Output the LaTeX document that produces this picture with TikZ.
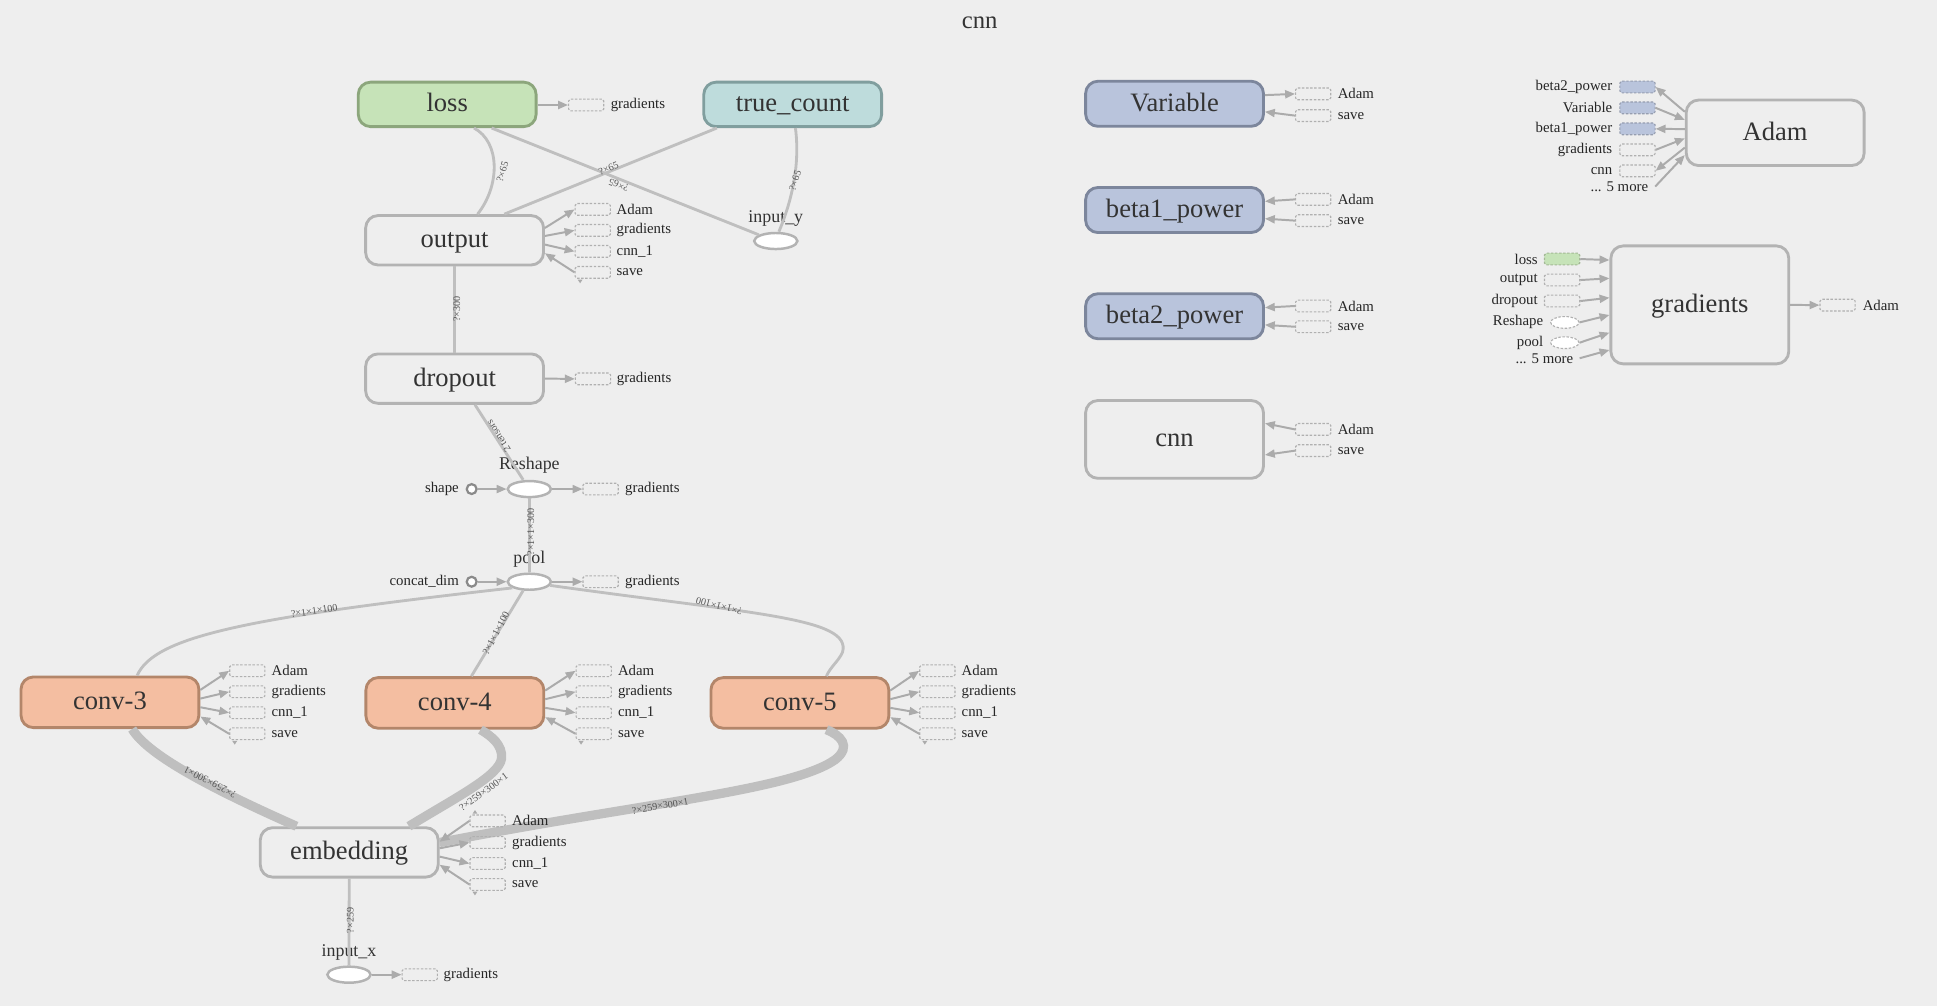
\documentclass[tikz,border=0pt]{standalone}
\usepackage{fontspec}
\setmainfont{Liberation Serif}
\usetikzlibrary{arrows.meta,calc,shapes.geometric}

\definecolor{bg}{HTML}{EEEEEE}
\definecolor{txt}{HTML}{333333}
\definecolor{edgegray}{HTML}{BFBFBF}
\definecolor{arrgray}{HTML}{ABABAB}
\definecolor{boxgray}{HTML}{B3B3B3}
\definecolor{stubgray}{HTML}{B0B0B0}
\definecolor{lossfill}{HTML}{C6E3B8}
\definecolor{lossdraw}{HTML}{8CA67C}
\definecolor{tcfill}{HTML}{BEDCDC}
\definecolor{tcdraw}{HTML}{809E9E}
\definecolor{varfill}{HTML}{B9C4DC}
\definecolor{vardraw}{HTML}{7C869C}
\definecolor{convfill}{HTML}{F4BEA1}
\definecolor{convdraw}{HTML}{B3866A}
\definecolor{constdraw}{HTML}{8A8A8A}
\definecolor{elabelc}{HTML}{555555}

\newcommand{\nodefont}{\fontsize{21.5}{24}\selectfont}
\newcommand{\opfont}{\fontsize{14.5}{16}\selectfont}
\newcommand{\stubfont}{\fontsize{12}{14}\selectfont}
\newcommand{\edgefont}{\fontsize{8.2}{9}\selectfont}
\newcommand{\titlefont}{\fontsize{20}{22}\selectfont}

\tikzset{
  opbox/.style={rectangle, rounded corners=10pt, draw=boxgray, line width=2.3pt,
    minimum width=144pt, minimum height=38pt, inner sep=0pt, text=txt, font=\nodefont,
    text height=16pt, text depth=4pt},
  lossbox/.style={opbox, fill=lossfill, draw=lossdraw},
  tcbox/.style={opbox, fill=tcfill, draw=tcdraw},
  varbox/.style={opbox, fill=varfill, draw=vardraw},
  convbox/.style={opbox, fill=convfill, draw=convdraw},
  opell/.style={ellipse, draw=boxgray, fill=white, line width=2pt,
    minimum width=35pt, minimum height=13pt, inner sep=0pt},
  oplbl/.style={font=\opfont, text=txt, inner sep=0pt},
  constc/.style={circle, draw=constdraw, fill=white, line width=1.8pt,
    minimum size=8pt, inner sep=0pt},
  stubbox/.style={rectangle, rounded corners=1.5pt, draw=stubgray,
    dash pattern=on 2pt off 1.3pt, line width=0.9pt,
    minimum width=28.5pt, minimum height=9.5pt, inner sep=0pt},
  stubvar/.style={stubbox, fill=varfill, draw=vardraw!80},
  stubloss/.style={stubbox, fill=lossfill, draw=lossdraw!80},
  stubell/.style={ellipse, draw=stubgray, fill=white, dash pattern=on 2pt off 1.3pt,
    line width=0.9pt, minimum width=23pt, minimum height=9.5pt, inner sep=0pt},
  stublbl/.style={font=\stubfont, text=black!85, inner sep=0pt},
  flow/.style={draw=edgegray, line width=2.3pt},
  bigflow/.style={draw=edgegray, line width=7.5pt},
  sa/.style={draw=arrgray, line width=1.6pt, -{Triangle[length=8pt,width=6.5pt]}},
  elabel/.style={font=\edgefont, text=elabelc, inner sep=0pt},
}

\begin{document}
\begin{tikzpicture}[x=1pt,y=-1pt]
\fill[bg] (0,0) rectangle (1568,814);
\useasboundingbox (0,0) rectangle (1568,814);

\node[font=\titlefont, text=txt] (title) at (793,18.5) {cnn};

% ---------------- main chain ----------------
\node[lossbox, minimum height=36pt] (loss) at (362,84.5) {loss};
\node[tcbox, minimum height=36pt] (truecount) at (641.7,84.5) {true\_count};
\node[opbox, minimum height=40pt] (output) at (368,194.5) {output};
\node[opbox, minimum height=40pt] (dropout) at (368,306.5) {dropout};
\node[convbox, minimum height=41pt] (conv3) at (89,568.5) {conv-3};
\node[convbox, minimum height=41pt] (conv4) at (368.2,569) {conv-4};
\node[convbox, minimum height=41pt] (conv5) at (647.5,569) {conv-5};
\node[opbox, minimum height=40pt] (embedding) at (282.7,690) {embedding};

\node[opell] (inputy) at (628,195.1) {};
\node[oplbl] (inputyl) at (628,177.2) {input\_y};
\node[opell] (reshape) at (428.5,395.9) {};
\node[oplbl] (reshapel) at (428.5,376.9) {Reshape};
\node[opell] (pool) at (428.5,470.9) {};
\node[oplbl] (pooll) at (428.5,452.5) {pool};
\node[opell] (inputx) at (282.5,789) {};
\node[oplbl] (inputxl) at (282.5,770.9) {input\_x};

\node[constc] (shape) at (381.8,395.9) {};
\node[stublbl, anchor=east] (shapel) at (371.6,395.9) {shape};
\node[constc] (concat) at (381.8,470.9) {};
\node[stublbl, anchor=east] (concatl) at (371.6,470.9) {concat\_dim};

% thick embedding outputs
\draw[bigflow] ([xshift=-42.7pt]embedding.north) .. controls (175,640) and (120,612) .. ([xshift=18pt]conv3.south);
\draw[bigflow] ([xshift=48.3pt]embedding.north) .. controls (370,645) and (404,628) .. (406,614)
  .. controls (407,603) and (398,596) .. ([xshift=20.8pt]conv4.south);
\draw[bigflow] ([yshift=8pt]embedding.east) .. controls (520,650) and (640,640) .. (676,615)
  .. controls (690,604) and (680,595) .. ([xshift=21.5pt]conv5.south);

% regular data edges
\draw[flow] ([xshift=18.6pt]output.north) .. controls (405,150) and (405,115) .. ([xshift=21.7pt]loss.south);
\draw[flow] ([xshift=40.2pt]output.north) -- ([xshift=-61.4pt]truecount.south);
\draw[flow] ([xshift=36pt]loss.south) -- (inputy.160);
\draw[flow] ([xshift=2.2pt]truecount.south) .. controls (648,135) and (640,165) .. ([xshift=2.5pt]inputy.north);
\draw[flow] (dropout.north) -- (output.south);
\draw[flow] ([xshift=-5pt]reshape.north) -- ([xshift=16.5pt]dropout.south);
\draw[flow] (pool.north) -- (reshape.south);
\draw[flow] ([xshift=22pt]conv3.north) .. controls (125,515) and (200,500) .. (pool.200);
\draw[flow] ([xshift=13.4pt]conv4.north) -- (pool.235);
\draw[flow] ([xshift=21.5pt]conv5.north) .. controls (672,540) and (679,535) .. (682,528)
  .. controls (690,500) and (610,497) .. (pool.350);
\draw[flow] (inputx.north) -- (embedding.south);

\draw[sa] (shape.east) -- (reshape.west);
\draw[sa] (concat.east) -- (pool.west);

% edge labels
\node[elabel, rotate=73] (lb1) at (406.8,139) {?×65};
\node[elabel, rotate=21.7] (lb2) at (492.7,136.3) {?×65};
\node[elabel, rotate=158.2] (lb3) at (500.8,149.8) {?×65};
\node[elabel, rotate=72] (lb4) at (643.6,146.3) {?×65};
\node[elabel, rotate=90] (lb5) at (369.8,250) {?×300};
\node[elabel, rotate=122.8] (lb6) at (403.5,353) {2 tensors};
\node[elabel, rotate=90] (lb7) at (429.8,430.5) {?×1×1×300};
\node[elabel, rotate=8.4] (lb8) at (254.4,494.5) {?×1×1×100};
\node[elabel, rotate=62.4] (lb9) at (401.5,512.6) {?×1×1×100};
\node[elabel, rotate=166] (lb10) at (582,490.5) {?×1×1×100};
\node[elabel, rotate=152.7] (lb11) at (170,633) {?×259×300×1};
\node[elabel, rotate=36] (lb12) at (391.5,641) {?×259×300×1};
\node[elabel, rotate=9.7] (lb13) at (534.5,652.5) {?×259×300×1};
\node[elabel, rotate=90] (lb14) at (283.5,745) {?×259};

% ---------------- auxiliary stubs of the main chain ----------------
% loss
\node[stubbox] (loss-g) at (474.5,85) {};
\node[stublbl, anchor=west] at ([xshift=5pt]loss-g.east) {gradients};
\draw[sa] (loss.east |- loss-g) -- (loss-g.west);

% output
\node[stubbox] (out-a) at (479.8,169.5) {};
\node[stubbox] (out-g) at (479.8,186.5) {};
\node[stubbox] (out-c) at (479.8,203.5) {};
\node[stubbox] (out-s) at (479.8,220.5) {};
\node[stublbl, anchor=west] at ([xshift=4.5pt]out-a.east) {Adam};
\node[stublbl, anchor=west] at ([xshift=4.5pt]out-g.east) {gradients};
\node[stublbl, anchor=west] at ([xshift=4.5pt]out-c.east) {cnn\_1};
\node[stublbl, anchor=west] at ([xshift=4.5pt]out-s.east) {save};
\draw[sa] ($(output.east)+(0,-10)$) -- (out-a.west);
\draw[sa] ($(output.east)+(0,-3.5)$) -- (out-g.west);
\draw[sa] ($(output.east)+(0,3.5)$) -- (out-c.west);
\draw[sa] (out-s.west) -- ($(output.east)+(0,10.5)$);
\fill[arrgray] ($(out-s.south west)+(2.5,0.6)$) -- ++(4,0) -- ++(-2,3) -- cycle;

% dropout
\node[stubbox] (drop-g) at (480,306.7) {};
\node[stublbl, anchor=west] at ([xshift=4.5pt]drop-g.east) {gradients};
\draw[sa] (dropout.east) -- (drop-g.west);

% Reshape and pool
\node[stubbox] (resh-g) at (486.2,395.9) {};
\node[stublbl, anchor=west] at ([xshift=5pt]resh-g.east) {gradients};
\draw[sa] (reshape.east) -- (resh-g.west);
\node[stubbox] (pool-g) at (486.2,470.9) {};
\node[stublbl, anchor=west] at ([xshift=5pt]pool-g.east) {gradients};
\draw[sa] (pool.east) -- (pool-g.west);

% conv-3, conv-4, conv-5
\foreach \cv/\sx in {conv3/200.2, conv4/480.6, conv5/758.8}{
  \node[stubbox] (\cv-a) at (\sx,543) {};
  \node[stubbox] (\cv-g) at (\sx,560) {};
  \node[stubbox] (\cv-c) at (\sx,577) {};
  \node[stubbox] (\cv-s) at (\sx,594) {};
  \node[stublbl, anchor=west] at ([xshift=4.8pt]\cv-a.east) {Adam};
  \node[stublbl, anchor=west] at ([xshift=4.8pt]\cv-g.east) {gradients};
  \node[stublbl, anchor=west] at ([xshift=4.8pt]\cv-c.east) {cnn\_1};
  \node[stublbl, anchor=west] at ([xshift=4.8pt]\cv-s.east) {save};
  \draw[sa] ($(\cv.east)+(0,-10)$) -- (\cv-a.west);
  \draw[sa] ($(\cv.east)+(0,-3)$) -- (\cv-g.west);
  \draw[sa] ($(\cv.east)+(0,4)$) -- (\cv-c.west);
  \draw[sa] (\cv-s.west) -- ($(\cv.east)+(0,11.5)$);
  \fill[arrgray] ($(\cv-s.south west)+(2.5,0.6)$) -- ++(4,0) -- ++(-2,3) -- cycle;
}

% embedding
\node[stubbox] (emb-a) at (394.7,664.5) {};
\node[stubbox] (emb-g) at (394.7,682) {};
\node[stubbox] (emb-c) at (394.7,699) {};
\node[stubbox] (emb-s) at (394.7,716) {};
\node[stublbl, anchor=west] at ([xshift=5pt]emb-a.east) {Adam};
\node[stublbl, anchor=west] at ([xshift=5pt]emb-g.east) {gradients};
\node[stublbl, anchor=west] at ([xshift=5pt]emb-c.east) {cnn\_1};
\node[stublbl, anchor=west] at ([xshift=5pt]emb-s.east) {save};
\draw[sa] (emb-a.west) -- ($(embedding.east)+(0,-8.6)$);
\draw[sa] ($(embedding.east)+(0,-3.3)$) -- (emb-g.west);
\draw[sa] ($(embedding.east)+(0,3.4)$) -- (emb-c.west);
\draw[sa] (emb-s.west) -- ($(embedding.east)+(0,10)$);
\fill[arrgray] ($(emb-a.north west)+(2.5,-0.6)$) -- ++(4,0) -- ++(-2,-3) -- cycle;
\fill[arrgray] ($(emb-s.south west)+(2.5,0.6)$) -- ++(4,0) -- ++(-2,3) -- cycle;

% input_x
\node[stubbox] (inx-g) at (339.8,789) {};
\node[stublbl, anchor=west] at ([xshift=4.5pt]inx-g.east) {gradients};
\draw[sa] (inputx.east) -- (inx-g.west);

% ---------------- variables ----------------
\node[varbox, minimum height=36.5pt] (variable) at (950.8,84) {Variable};
\node[varbox, minimum height=36.5pt] (beta1) at (950.8,170) {beta1\_power};
\node[varbox, minimum height=36.5pt] (beta2) at (950.8,256) {beta2\_power};
\node[opbox, minimum height=63pt] (cnn) at (950.8,355.7) {cnn};

\foreach \vn/\ya/\yb in {variable/76/93.6, beta1/161.4/178.6, beta2/247.7/264.5, cnn/347.6/364.8}{
  \node[stubbox] (\vn-a) at (1063,\ya) {};
  \node[stubbox] (\vn-s) at (1063,\yb) {};
  \node[stublbl, anchor=west] at ([xshift=5pt]\vn-a.east) {Adam};
  \node[stublbl, anchor=west] at ([xshift=5pt]\vn-s.east) {save};
}
\draw[sa] ($(variable.east)+(0,-7)$) -- (variable-a.west);
\draw[sa] (variable-s.west) -- ($(variable.east)+(0,6.5)$);
\draw[sa] (beta1-a.west) -- ($(beta1.east)+(0,-7)$);
\draw[sa] (beta1-s.west) -- ($(beta1.east)+(0,7)$);
\draw[sa] (beta2-a.west) -- ($(beta2.east)+(0,-7)$);
\draw[sa] (beta2-s.west) -- ($(beta2.east)+(0,7)$);
\draw[sa] (cnn-a.west) -- ($(cnn.east)+(0,-13)$);
\draw[sa] (cnn-s.west) -- ($(cnn.east)+(0,12.6)$);

% ---------------- Adam ----------------
\node[opbox, minimum height=53pt] (adam) at (1437,107.5) {Adam};
\node[stubvar] (ad-1) at (1325.5,70.4) {};
\node[stubvar] (ad-2) at (1325.5,87.3) {};
\node[stubvar] (ad-3) at (1325.5,104.3) {};
\node[stubbox] (ad-4) at (1325.5,121.3) {};
\node[stubbox] (ad-5) at (1325.5,138.3) {};
\node[stublbl, anchor=east] at ([xshift=-5.5pt]ad-1.west) {beta2\_power};
\node[stublbl, anchor=east] at ([xshift=-5.5pt]ad-2.west) {Variable};
\node[stublbl, anchor=east] at ([xshift=-5.5pt]ad-3.west) {beta1\_power};
\node[stublbl, anchor=east] at ([xshift=-5.5pt]ad-4.west) {gradients};
\node[stublbl, anchor=east] at ([xshift=-5.5pt]ad-5.west) {cnn};
\node[stublbl, anchor=east] (admore) at (1334.4,151) {... 5 more};
\draw[sa] ($(adam.west)+(0,-17)$) -- (ad-1.east);
\draw[sa] (ad-2.east) -- ($(adam.west)+(0,-10.5)$);
\draw[sa] ($(adam.west)+(0,-3)$) -- (ad-3.east);
\draw[sa] (ad-4.east) -- ($(adam.west)+(0,4.5)$);
\draw[sa] ($(adam.west)+(0,12)$) -- (ad-5.east);
\draw[sa] ([xshift=5.5pt]admore.east) -- ($(adam.west)+(0,18)$);

% ---------------- gradients ----------------
\node[opbox, minimum height=95.5pt] (grads) at (1376,246.8) {gradients};
\node[stubloss] (gr-1) at (1264.5,209.7) {};
\node[stubbox] (gr-2) at (1264.5,226.7) {};
\node[stubbox] (gr-3) at (1264.5,243.7) {};
\node[stubell] (gr-4) at (1266.7,261) {};
\node[stubell] (gr-5) at (1266.7,277.4) {};
\node[stublbl, anchor=east] at (1245,209.7) {loss};
\node[stublbl, anchor=east] at (1245,226.7) {output};
\node[stublbl, anchor=east] at (1245,243.7) {dropout};
\node[stublbl, anchor=east] at (1249.4,261) {Reshape};
\node[stublbl, anchor=east] at (1249.4,277.4) {pool};
\node[stublbl, anchor=east] (grmore) at (1273.7,290) {... 5 more};
\draw[sa] (gr-1.east) -- ($(grads.west)+(0,-36.3)$);
\draw[sa] (gr-2.east) -- ($(grads.west)+(0,-21.5)$);
\draw[sa] (gr-3.east) -- ($(grads.west)+(0,-5.8)$);
\draw[sa] (gr-4.east) -- ($(grads.west)+(0,8.2)$);
\draw[sa] (gr-5.east) -- ($(grads.west)+(0,22.5)$);
\draw[sa] ([xshift=5pt]grmore.east) -- ($(grads.west)+(0,36.5)$);
\node[stubbox] (gr-out) at (1487.5,247) {};
\node[stublbl, anchor=west] at ([xshift=5.5pt]gr-out.east) {Adam};
\draw[sa] (grads.east) -- (gr-out.west);

\end{tikzpicture}
\end{document}
